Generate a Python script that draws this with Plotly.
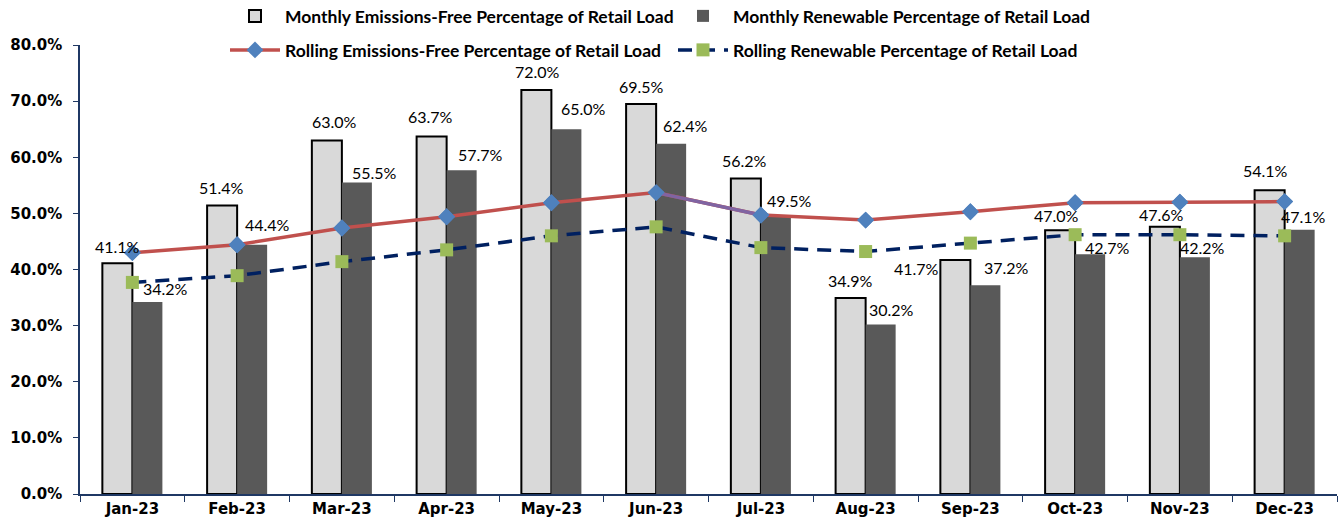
import plotly.graph_objects as go

months = ["Jan-23", "Feb-23", "Mar-23", "Apr-23", "May-23", "Jun-23",
          "Jul-23", "Aug-23", "Sep-23", "Oct-23", "Nov-23", "Dec-23"]
monthly_ef = [41.1, 51.4, 63.0, 63.7, 72.0, 69.5, 56.2, 34.9, 41.7, 47.0, 47.6, 54.1]
monthly_re = [34.2, 44.4, 55.5, 57.7, 65.0, 62.4, 49.5, 30.2, 37.2, 42.7, 42.2, 47.1]
rolling_ef = [43.0, 44.4, 47.4, 49.4, 51.9, 53.7, 49.7, 48.8, 50.3, 51.9, 52.0, 52.1]
rolling_re = [37.7, 38.9, 41.4, 43.5, 46.0, 47.6, 43.9, 43.2, 44.7, 46.2, 46.2, 46.0]

# label placement (pixel offsets from category center / value)
ef_lbl_dx = [-15, -16, -7, -16, -14, -15, -16, -15, -54, -19, -18, -19]
ef_lbl_dy = [17, 18, 19, 20, 18, 17, 18, 18, -9, 15, 12, 20]
re_lbl_dx = [33, 30, 33, 34, 32, 29, 29, 26, 36, 32, 23, 19]
re_lbl_dy = [14, 20, 10, 16, 21, 18, 16, 15, 18, 7, 10, 13]

NAVY = "#1F3864"
lbl_font = dict(family="Lato, Calibri, sans-serif", size=16, color="#000000")

fig = go.Figure()
fig.add_trace(go.Bar(
    x=months, y=monthly_ef, name="Monthly Emissions-Free Percentage of Retail Load",
    marker=dict(color="#D9D9D9", line=dict(color="#000000", width=2)),
    legend="legend", hoverinfo="x+y"))
fig.add_trace(go.Bar(
    x=months, y=monthly_re, name="Monthly Renewable Percentage of Retail Load",
    marker=dict(color="#595959", line=dict(width=0)),
    legend="legend", hoverinfo="x+y"))

fig.add_trace(go.Scatter(
    x=months, y=rolling_ef, mode="lines+markers",
    name="Rolling Emissions-Free Percentage of Retail Load",
    line=dict(color="#C0504D", width=3.5),
    marker=dict(symbol="diamond", size=13, color="#4F81BD"),
    legend="legend2"))
fig.add_trace(go.Scatter(
    x=months[5:7], y=rolling_ef[5:7], mode="lines",
    line=dict(color="#8064A2", width=3.5), showlegend=False, hoverinfo="skip"))
fig.add_trace(go.Scatter(
    x=months, y=rolling_ef, mode="markers",
    marker=dict(symbol="diamond", size=13, color="#4F81BD"),
    showlegend=False, hoverinfo="skip"))
fig.add_trace(go.Scatter(
    x=months, y=rolling_re, mode="lines+markers",
    name="Rolling Renewable Percentage of Retail Load",
    line=dict(color="#002060", width=3.5, dash="14px,9px"),
    marker=dict(symbol="square", size=13, color="#9BBB59"),
    legend="legend2"))

annotations = []
for i, m in enumerate(months):
    annotations.append(dict(
        x=m, y=monthly_ef[i], xref="x", yref="y", text=f"{monthly_ef[i]:.1f}%",
        showarrow=False, xshift=ef_lbl_dx[i], yshift=ef_lbl_dy[i], font=lbl_font))
    annotations.append(dict(
        x=m, y=monthly_re[i], xref="x", yref="y", text=f"{monthly_re[i]:.1f}%",
        showarrow=False, xshift=re_lbl_dx[i], yshift=re_lbl_dy[i], font=lbl_font))

leg_font = dict(family="Lato, Calibri, sans-serif", size=17.5, color="#000000", weight="bold")

W, H = 1341, 531
L, T = 80, 45
PW, PH = 1257, 449
R, B = W - L - PW, H - T - PH

def py(y_page):
    return 1 + (T - y_page) / PH

fig.update_layout(
    width=W, height=H,
    margin=dict(l=L, r=R, t=T, b=B, autoexpand=False),
    paper_bgcolor="white", plot_bgcolor="white",
    barmode="group", bargap=0.427, bargroupgap=0,
    annotations=annotations,
    legend=dict(orientation="h", xref="paper", yref="paper",
                x=(225 - L) / PW, y=py(16), xanchor="left", yanchor="middle",
                entrywidth=383, entrywidthmode="pixels",
                font=leg_font, bgcolor="rgba(0,0,0,0)", itemwidth=50),
    legend2=dict(orientation="h", xref="paper", yref="paper",
                 x=(225 - L) / PW, y=py(50), xanchor="left", yanchor="middle",
                 entrywidth=383, entrywidthmode="pixels",
                 font=leg_font, bgcolor="rgba(0,0,0,0)", itemwidth=50),
    xaxis=dict(type="category", range=[-0.5, len(months) - 0.5],
               showline=True, linecolor=NAVY, linewidth=1.5,
               ticks="outside", tickson="boundaries", ticklen=6, tickcolor=NAVY,
               showgrid=False, zeroline=False, automargin=False,
               tickfont=dict(family="DejaVu Sans, Tahoma, sans-serif", size=15,
                             color="#000000", weight="bold")),
    yaxis=dict(range=[0, 80], dtick=10, tickformat=".1f", ticksuffix="%",
               showline=True, linecolor=NAVY, linewidth=1.5,
               ticks="outside", ticklen=5, tickcolor=NAVY, ticklabelstandoff=8,
               showgrid=False, zeroline=False, automargin=False,
               tickfont=dict(family="DejaVu Sans, Tahoma, sans-serif", size=15,
                             color="#000000", weight="bold")),
)

fig.write_html("out.html", config={"displayModeBar": False},
               post_script="document.body.style.margin='0px';")
